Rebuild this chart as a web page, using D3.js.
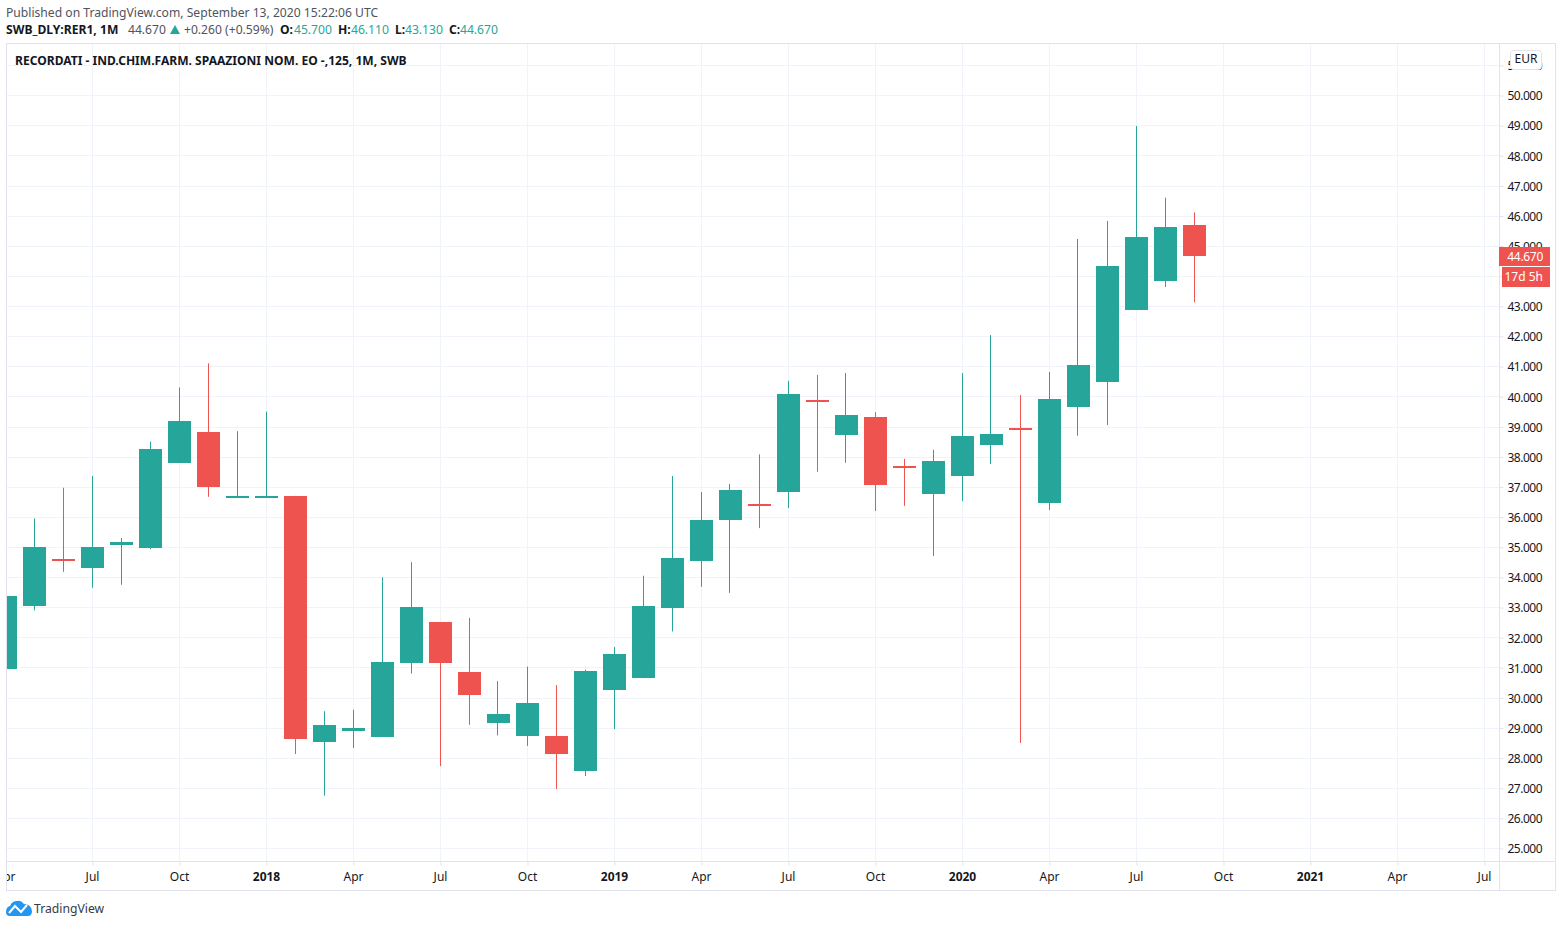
<!DOCTYPE html>
<html>
<head>
<meta charset="utf-8">
<script src="https://cdnjs.cloudflare.com/ajax/libs/d3/7.8.5/d3.min.js"></script>
<style>
  html, body { margin: 0; padding: 0; background: #fff; }
  svg { display: block; }
  text { font-family: "Noto Sans", "Open Sans", sans-serif; }
</style>
</head>
<body>
<div class="canvas"></div>
<script>
// monthly candles, Apr 2017 to Sep 2020
const months = ['2017-04','2017-05','2017-06','2017-07','2017-08','2017-09','2017-10','2017-11','2017-12',
    '2018-01','2018-02','2018-03','2018-04','2018-05','2018-06','2018-07','2018-08','2018-09','2018-10','2018-11','2018-12',
    '2019-01','2019-02','2019-03','2019-04','2019-05','2019-06','2019-07','2019-08','2019-09','2019-10','2019-11','2019-12',
    '2020-01','2020-02','2020-03','2020-04','2020-05','2020-06','2020-07','2020-08','2020-09'];
const opens = [30.95,33.05,34.6,34.3,35.07,34.97,37.8,38.82,36.7,
    36.7,36.7,28.53,28.9,28.7,31.15,32.5,30.85,29.15,28.75,28.73,27.56,
    30.25,30.65,32.98,34.54,35.9,36.42,36.83,39.9,38.72,39.32,37.68,36.76,
    37.36,38.39,38.97,36.46,39.65,40.48,42.88,43.83,45.7];
const highs = [34.2,35.95,36.97,37.36,35.3,38.5,40.3,41.1,38.85,
    39.5,36.7,29.55,29.6,34.0,34.5,32.5,32.65,30.55,31.03,30.42,30.93,
    31.68,34.05,37.36,36.83,37.1,38.08,40.52,40.72,40.78,39.48,37.93,38.23,
    40.78,42.04,40.05,40.82,45.23,45.83,48.98,46.6,46.11];
const lows = [30.95,32.9,34.18,33.65,33.75,34.93,37.8,36.67,36.7,
    36.7,28.13,26.75,28.33,28.7,30.8,27.73,29.1,28.75,28.4,26.97,27.4,
    28.96,30.65,32.2,33.68,33.48,35.63,36.3,37.5,37.8,36.2,36.37,34.7,
    36.53,37.76,28.5,36.23,38.7,39.05,42.88,43.64,43.13];
const closes = [33.38,35.0,34.55,35.0,35.17,38.25,39.2,37.0,36.7,
    36.7,28.63,29.1,29.0,31.18,33.0,31.15,30.1,29.45,29.83,28.13,30.89,
    31.45,33.05,34.64,35.9,36.9,36.38,40.08,39.87,39.38,37.06,37.64,37.86,
    38.69,38.75,38.93,39.92,41.05,44.33,45.3,45.63,44.67];

const priceTicks = d3.range(25, 52);
const timeTicks = [
    { month: '2017-04', label: 'Apr' }, { month: '2017-07', label: 'Jul' }, { month: '2017-10', label: 'Oct' },
    { month: '2018-01', label: '2018', year: true }, { month: '2018-04', label: 'Apr' }, { month: '2018-07', label: 'Jul' }, { month: '2018-10', label: 'Oct' },
    { month: '2019-01', label: '2019', year: true }, { month: '2019-04', label: 'Apr' }, { month: '2019-07', label: 'Jul' }, { month: '2019-10', label: 'Oct' },
    { month: '2020-01', label: '2020', year: true }, { month: '2020-04', label: 'Apr' }, { month: '2020-07', label: 'Jul' }, { month: '2020-10', label: 'Oct' },
    { month: '2021-01', label: '2021', year: true }, { month: '2021-04', label: 'Apr' }, { month: '2021-07', label: 'Jul' }
];

const up = '#26a69a';
const down = '#ef5350';
const gridCol = '#f0f3fa';
const frameCol = '#e0e3eb';
const textCol = '#131722';

const dims = { left: 6.5, right: 1555.5, top: 43.5, bottom: 890.5, axisX: 1499.5, axisY: 861.5 };

const svg = d3.select('.canvas').append('svg')
    .attr('width', 1560)
    .attr('height', 927);

svg.append('defs').append('clipPath').attr('id', 'pane')
    .append('rect')
    .attr('x', dims.left).attr('y', dims.top)
    .attr('width', dims.axisX - dims.left).attr('height', dims.axisY - dims.top);
svg.select('defs').append('clipPath').attr('id', 'timeStrip')
    .append('rect')
    .attr('x', dims.left).attr('y', dims.axisY)
    .attr('width', dims.axisX - dims.left).attr('height', dims.bottom - dims.axisY);

// scales: one month is 29px, calendar months counted from Apr 2017
const monthIndex = m => {
    const [y, mo] = m.split('-').map(Number);
    return (y - 2017) * 12 + (mo - 4);
};
const x = d3.scaleLinear().domain([0, 51]).range([5, 1484]);
const y = d3.scaleLinear().domain([25, 50]).range([848.5, 95.5]);
const px = v => Math.round(v) + 0.5;

// grid
const grid = svg.append('g').attr('clip-path', 'url(#pane)');
grid.selectAll('.hgrid').data(priceTicks).enter().append('line')
    .attr('x1', dims.left).attr('x2', dims.axisX)
    .attr('y1', d => px(y(d) - 0.3)).attr('y2', d => px(y(d) - 0.3))
    .attr('stroke', gridCol);
grid.selectAll('.vgrid').data(timeTicks).enter().append('line')
    .attr('x1', d => px(x(monthIndex(d.month)))).attr('x2', d => px(x(monthIndex(d.month))))
    .attr('y1', dims.top).attr('y2', dims.axisY)
    .attr('stroke', gridCol);

// candles
const candles = months.map((m, i) => ({ m, o: opens[i], h: highs[i], l: lows[i], c: closes[i] }));
const candleG = svg.append('g').attr('clip-path', 'url(#pane)');
const colour = d => d.c >= d.o ? up : down;

candleG.selectAll('.wick').data(candles).enter().append('line')
    .attr('x1', d => px(x(monthIndex(d.m)) - 0.5))
    .attr('x2', d => px(x(monthIndex(d.m)) - 0.5))
    .attr('y1', d => y(d.h) - 0.2).attr('y2', d => y(d.l) - 0.2)
    .attr('stroke', colour);

candleG.selectAll('.body').data(candles).enter().append('rect')
    .attr('x', d => Math.round(x(monthIndex(d.m))) - 11)
    .attr('width', 23)
    .attr('y', d => Math.round(y(Math.max(d.o, d.c)) - 0.2))
    .attr('height', d => Math.max(2, Math.round(y(Math.min(d.o, d.c)) - y(Math.max(d.o, d.c)))))
    .attr('fill', colour);

// price axis
const priceAxis = d3.axisRight(y)
    .tickValues(priceTicks)
    .tickSize(4)
    .tickPadding(4)
    .tickFormat(d3.format('.3f'));
const priceG = svg.append('g')
    .attr('transform', `translate(${dims.axisX}, 0)`)
    .call(priceAxis);
priceG.select('.domain').remove();
priceG.selectAll('line').attr('stroke', frameCol);
priceG.selectAll('text')
    .attr('y', 0.5)
    .attr('fill', textCol)
    .attr('font-size', 12)
    .attr('letter-spacing', -0.5)
    .attr('font-family', '"Noto Sans"');

// time axis
const timeAxis = d3.axisBottom(x)
    .tickValues(timeTicks.map(d => monthIndex(d.month)))
    .tickSize(4)
    .tickPadding(7)
    .tickFormat((d, i) => timeTicks[i].label);
const timeG = svg.append('g')
    .attr('clip-path', 'url(#timeStrip)')
    .append('g')
    .attr('transform', `translate(0.5, ${dims.axisY})`)
    .call(timeAxis);
timeG.select('.domain').remove();
timeG.selectAll('line').attr('stroke', frameCol);
timeG.selectAll('text')
    .attr('x', -0.5)
    .attr('fill', textCol)
    .attr('font-size', 12)
    .attr('font-family', '"Noto Sans"')
    .attr('font-weight', (d, i) => timeTicks[i].year ? 700 : 400);

// frame
svg.append('rect')
    .attr('x', dims.left).attr('y', dims.top)
    .attr('width', dims.right - dims.left).attr('height', dims.bottom - dims.top)
    .attr('fill', 'none').attr('stroke', frameCol);
svg.append('line').attr('x1', dims.axisX).attr('x2', dims.axisX).attr('y1', dims.top).attr('y2', dims.bottom).attr('stroke', frameCol);
svg.append('line').attr('x1', dims.left).attr('x2', dims.right).attr('y1', dims.axisY).attr('y2', dims.axisY).attr('stroke', frameCol);

// last price and countdown labels
const lastClose = closes[closes.length - 1];
const lastY = Math.round(y(lastClose));
svg.append('rect').attr('x', 1499).attr('y', lastY - 9).attr('width', 51).attr('height', 19).attr('fill', down);
svg.append('text').attr('x', 1543).attr('y', lastY + 5).attr('text-anchor', 'end').attr('letter-spacing', -0.3)
    .attr('fill', '#fff').attr('font-size', 12).text(d3.format('.3f')(lastClose));
svg.append('rect').attr('x', 1502).attr('y', lastY + 11).attr('width', 48).attr('height', 20).attr('fill', down);
svg.append('text').attr('x', 1543).attr('y', lastY + 25).attr('text-anchor', 'end')
    .attr('fill', '#fff').attr('font-size', 12).text('17d 5h');

// currency button
svg.append('rect').attr('x', 1510.5).attr('y', 50.5).attr('width', 31).attr('height', 19).attr('rx', 3)
    .attr('fill', '#fff').attr('stroke', frameCol);
svg.append('text').attr('x', 1526).attr('y', 63).attr('text-anchor', 'middle')
    .attr('fill', textCol).attr('font-size', 12).text('EUR');

// header
svg.append('text').attr('x', 6).attr('y', 17).attr('fill', '#50535e').attr('font-size', 12.13)
    .text('Published on TradingView.com, September 13, 2020 15:22:06 UTC');

const head = svg.append('text').attr('x', 6).attr('y', 34).attr('font-size', 12.13).attr('fill', textCol);
head.append('tspan').attr('font-weight', 700).text('SWB_DLY:RER1, 1M');
head.append('tspan').attr('x', 128).attr('fill', '#50535e').text('44.670');
head.append('tspan').attr('x', 184).attr('fill', '#50535e').text('+0.260 (+0.59%)');
[['O:', 280, '45.700', 294], ['H:', 338, '46.110', 351], ['L:', 395, '43.130', 405], ['C:', 449, '44.670', 460]]
    .forEach(([k, kx, v, vx]) => {
        head.append('tspan').attr('x', kx).attr('font-weight', 700).text(k);
        head.append('tspan').attr('x', vx).attr('fill', up).text(v);
    });
svg.append('path').attr('d', 'M170,34 L175,25 L180,34 Z').attr('fill', up);

svg.append('text').attr('x', 15).attr('y', 65).attr('fill', textCol).attr('font-size', 12.07).attr('font-weight', 700)
    .text('RECORDATI - IND.CHIM.FARM. SPAAZIONI NOM. EO -,125, 1M, SWB');

// logo
svg.append('path')
    .attr('d', 'M6,912 Q6,907 10,906 Q12,901 17,901 Q21,900 24,904 Q31,904 32,911 Q32,916 28,916 L10,916 Q6,916 6,912 Z')
    .attr('fill', '#2196f3');
svg.append('path')
    .attr('d', 'M9,913 L15,906 L21,912 L27,905')
    .attr('fill', 'none').attr('stroke', '#fff').attr('stroke-width', 2);
svg.append('text').attr('x', 34).attr('y', 913).attr('fill', '#363a45').attr('font-size', 12.2).text('TradingView');
</script>
</body>
</html>
